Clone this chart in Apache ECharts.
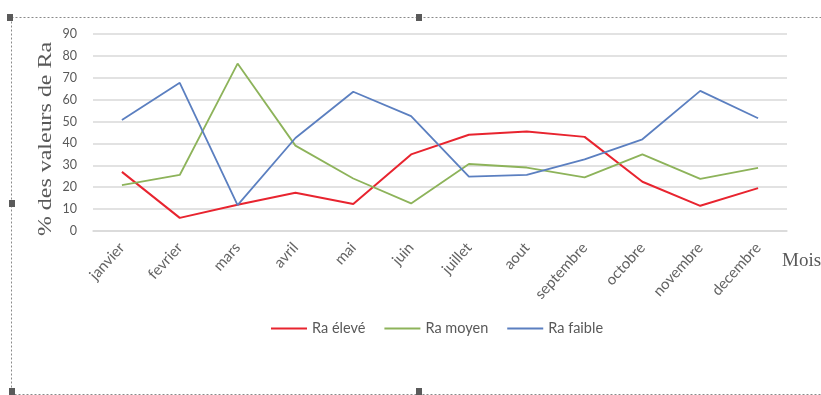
<!DOCTYPE html>
<html>
<head>
<meta charset="utf-8">
<script src="https://cdn.jsdelivr.net/npm/echarts@6/dist/echarts.min.js"></script>
<style>
  html, body { margin: 0; padding: 0; background: #ffffff; }
  #chart { width: 821px; height: 395px; }
</style>
</head>
<body>
<div id="chart"></div>
<script>
// Mois de l'année
const mois = ['janvier', 'fevrier', 'mars', 'avril', 'mai', 'juin',
  'juillet', 'aout', 'septembre', 'octobre', 'novembre', 'decembre'];

// Pourcentage des valeurs de Ra par classe
const raEleve = [27, 6, 12, 17.5, 12.3, 35, 44, 45.5, 43, 22.5, 11.5, 19.6];
const raMoyen = [21, 25.6, 76.5, 39, 24, 12.6, 30.6, 29, 24.5, 35, 23.8, 28.8];
const raFaible = [50.7, 67.7, 11.8, 42.5, 63.6, 52.5, 24.8, 25.6, 32.7, 41.9, 64, 51.5];

const yTicks = { min: 0, max: 90, step: 10 };

const grey = '#595959';
const chart = echarts.init(document.getElementById('chart'));

function handle(x, y) {
  return { type: 'rect', shape: { x: x, y: y, width: 6, height: 7 },
    style: { fill: '#5a5a5a' }, z: 10 };
}

chart.setOption({
  animation: false,
  backgroundColor: '#ffffff',
  grid: { left: 93, right: 34, top: 34, bottom: 164 },
  legend: {
    top: 316, left: 266,
    icon: 'rect', itemWidth: 36, itemHeight: 2, itemGap: 19,
    textStyle: { color: grey, fontSize: 14.5, fontFamily: 'Lato' },
    data: ['Ra élevé', 'Ra moyen', 'Ra faible']
  },
  xAxis: {
    type: 'category',
    data: mois,
    boundaryGap: true,
    axisLine: { lineStyle: { color: '#d9d9d9', width: 1.5 } },
    axisTick: { show: false },
    axisLabel: { rotate: 48, color: '#636363', fontSize: 15, fontFamily: 'Lato', margin: 14, interval: 0 }
  },
  yAxis: {
    type: 'value',
    min: yTicks.min, max: yTicks.max, interval: yTicks.step,
    axisLine: { show: false },
    axisTick: { show: false },
    axisLabel: { color: grey, fontSize: 12.5, fontFamily: 'Lato', margin: 16 },
    splitLine: { lineStyle: { color: '#d9d9d9', width: 1.5 } }
  },
  series: [
    { name: 'Ra élevé', type: 'line', data: raEleve, showSymbol: false,
      color: '#e8242f', lineStyle: { width: 2 } },
    { name: 'Ra moyen', type: 'line', data: raMoyen, showSymbol: false,
      color: '#8db35a', lineStyle: { width: 1.8 } },
    { name: 'Ra faible', type: 'line', data: raFaible, showSymbol: false,
      color: '#5b7fc0', lineStyle: { width: 1.8 } }
  ],
  graphic: [
    // y-axis title, stretched along its length
    { type: 'text', x: 46, y: 139, rotation: Math.PI / 2, scaleX: 1.33, scaleY: 1,
      style: { text: '% des valeurs de Ra', fill: grey, font: '18px "Liberation Serif"',
        textAlign: 'center', textVerticalAlign: 'middle' } },
    { type: 'text', left: 782, top: 252,
      style: { text: 'Mois', fill: grey, font: '19px "Liberation Serif"' } },
    { type: 'rect', shape: { x: 11.5, y: 17.5, width: 840, height: 377 },
      style: { fill: 'none', stroke: '#8a8a8a', lineWidth: 1, lineDash: [2, 2] } },
    handle(7, 14), handle(416, 14), handle(9, 200), handle(9, 388), handle(416, 388)
  ]
});
</script>
</body>
</html>
